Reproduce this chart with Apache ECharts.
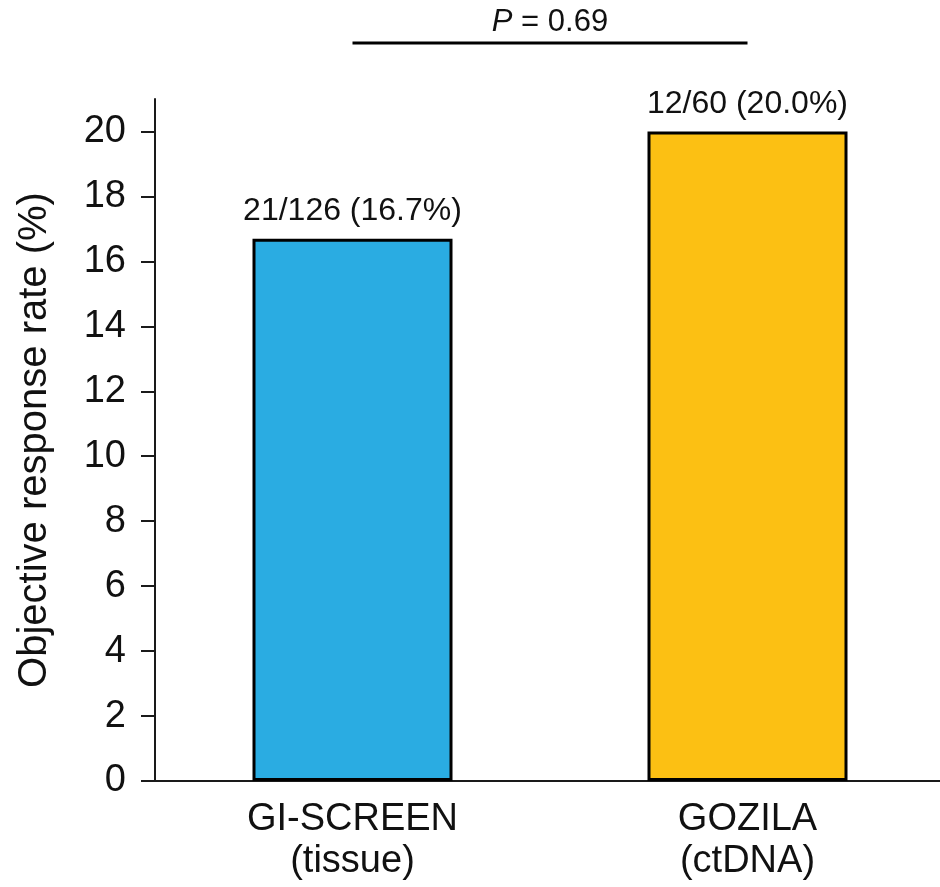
<!DOCTYPE html>
<html>
<head>
<meta charset="utf-8">
<title>Objective response rate</title>
<script src="https://cdn.jsdelivr.net/npm/echarts@6/dist/echarts.min.js"></script>
<style>
  html, body { margin: 0; padding: 0; background: #fff; }
  #chart { width: 940px; height: 887px; }
</style>
</head>
<body>
<div id="chart"></div>
<script>
// Cohorts and their objective response rates
const categories = ['GI-SCREEN\n(tissue)', 'GOZILA\n(ctDNA)'];
const responders = [21, 12];
const patients = [126, 60];
const rates = [16.7, 20.0];
const barColors = ['#2AACE2', '#FCC013'];
const yTicks = [0, 2, 4, 6, 8, 10, 12, 14, 16, 18, 20];
const pValue = '0.69';

const FONT = '"Liberation Sans", Arial, Helvetica, sans-serif';

const chart = echarts.init(document.getElementById('chart'), null, { renderer: 'canvas' });

const option = {
  animation: false,
  backgroundColor: '#ffffff',
  grid: {
    left: 155, top: 99, width: 790, bottom: 106,
    containLabel: false, outerBoundsMode: 'none'
  },
  xAxis: {
    type: 'category',
    data: categories,
    axisLine: { show: true, lineStyle: { color: '#1a1a1a', width: 2 } },
    axisTick: { show: false },
    axisLabel: {
      color: '#111', fontFamily: FONT, fontSize: 38, lineHeight: 42, margin: 18
    }
  },
  yAxis: {
    type: 'value',
    min: 0,
    max: 21,
    interval: 2,
    splitLine: { show: false },
    axisLine: { show: true, lineStyle: { color: '#1a1a1a', width: 2 } },
    axisTick: {
      show: true, inside: false, length: 14, customValues: yTicks,
      lineStyle: { color: '#1a1a1a', width: 2 }
    },
    axisLabel: {
      color: '#111', fontFamily: FONT, fontSize: 38, margin: 29, customValues: yTicks
    }
  },
  graphic: [
    {
      type: 'text',
      x: 35, y: 440,
      rotation: Math.PI / 2,
      style: {
        text: 'Objective response rate (%)',
        fill: '#111', font: '40px ' + FONT,
        align: 'center', verticalAlign: 'middle'
      }
    }
  ],
  series: [{
    type: 'bar',
    barWidth: 200,
    data: rates.map((v, i) => ({
      value: v,
      itemStyle: { color: barColors[i], borderColor: '#000', borderWidth: 3 }
    })),
    label: {
      show: true,
      position: 'top',
      distance: 11,
      color: '#111',
      fontFamily: FONT,
      fontSize: 32,
      formatter: p => responders[p.dataIndex] + '/' + patients[p.dataIndex] +
        ' (' + rates[p.dataIndex].toFixed(1) + '%)'
    }
  }]
};

chart.setOption(option);

// Significance bracket between the two bar centres
const x0 = chart.convertToPixel({ xAxisIndex: 0 }, 0);
const x1 = chart.convertToPixel({ xAxisIndex: 0 }, 1);
const bracketY = 43;
chart.setOption({
  graphic: [
    option.graphic[0],
    {
      type: 'line',
      shape: { x1: x0, y1: bracketY, x2: x1, y2: bracketY },
      style: { stroke: '#000', lineWidth: 3 }
    },
    {
      type: 'text',
      x: (x0 + x1) / 2, y: 22,
      style: {
        text: '{i|P} = ' + pValue,
        font: '31px ' + FONT,
        fill: '#111',
        align: 'center', verticalAlign: 'middle',
        rich: {
          i: { fontStyle: 'italic', fontFamily: FONT, fontSize: 31, fill: '#111' }
        }
      }
    }
  ]
});
</script>
</body>
</html>
